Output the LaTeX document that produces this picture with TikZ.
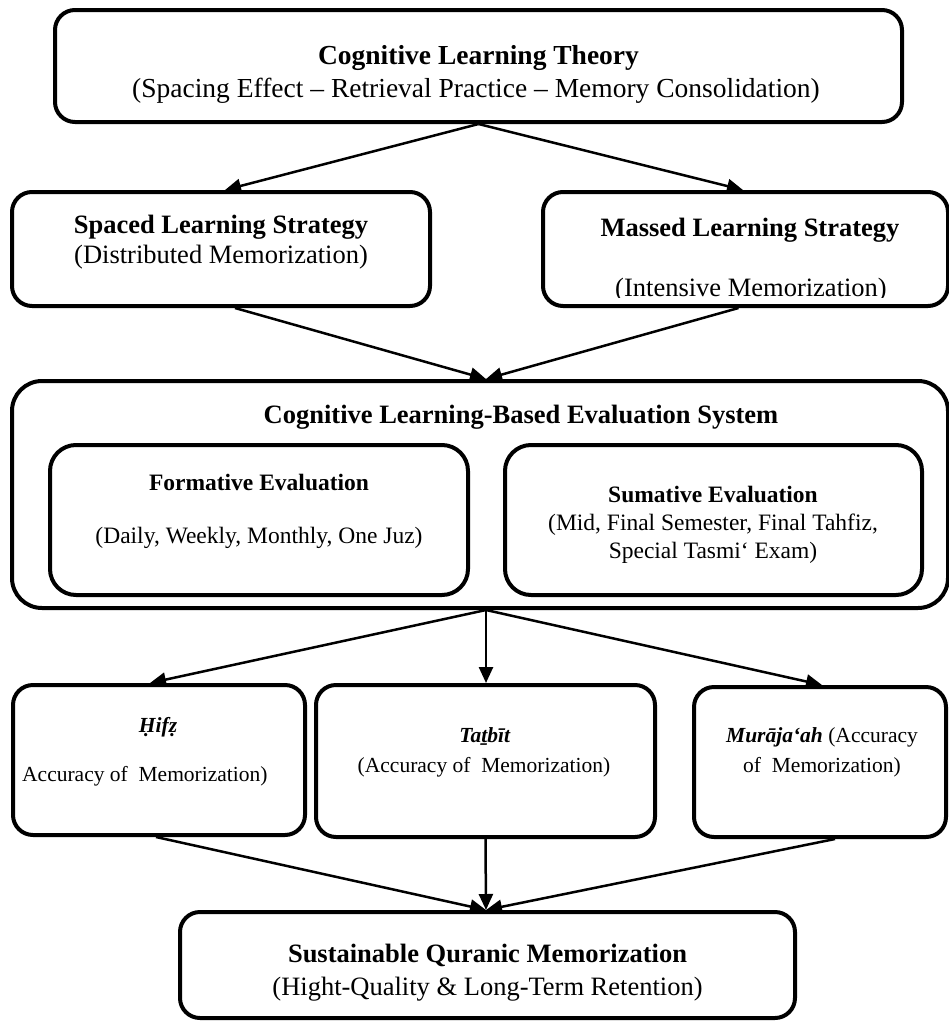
\documentclass[tikz,border=0pt]{standalone}
\usepackage{fontspec}
\setmainfont{Liberation Serif}
\usetikzlibrary{arrows.meta}
\begin{document}
\begin{tikzpicture}[x=1pt,y=-1pt,
  box/.style={draw,line width=4pt,rounded corners=20pt,inner sep=0pt},
  bigt/.style={inner sep=0pt,anchor=base,font=\fontsize{27.5}{32}\selectfont},
  lbl/.style={inner sep=0pt,anchor=base,font=\fontsize{26.5}{30}\selectfont},
  sml/.style={inner sep=0pt,anchor=base,font=\fontsize{23.5}{29}\selectfont},
  tny/.style={inner sep=0pt,anchor=base,font=\fontsize{21.5}{30}\selectfont},
  arr/.style={line width=2.5pt,-{Triangle[length=16pt,width=14pt]}}]
\useasboundingbox (0,0) rectangle (949,1023);

% boxes
\node[box,minimum width=847pt,minimum height=112pt] (top) at (478.5,66) {};
\node[box,minimum width=418pt,minimum height=114pt] (spaced) at (221,249) {};
\node[box,minimum width=405pt,minimum height=114pt] (massed) at (745.5,249) {};
\node[box,rounded corners=30pt,minimum width=936pt,minimum height=227pt] (big) at (480,494.5) {};
\node[box,rounded corners=26pt,minimum width=418pt,minimum height=150pt] (form) at (259,520) {};
\node[box,rounded corners=26pt,minimum width=417pt,minimum height=150pt] (sum) at (713.5,520) {};
\node[box,minimum width=292pt,minimum height=150pt] (hifz) at (159,760) {};
\node[box,minimum width=339pt,minimum height=152pt] (tatbit) at (485.5,761) {};
\node[box,minimum width=252pt,minimum height=150pt] (muraja) at (820,762) {};
\node[box,minimum width=615pt,minimum height=106pt] (final) at (487.5,965) {};

% texts
\node[bigt] (t1) at (478.5,64) {\textbf{Cognitive Learning Theory}};
\node[bigt] (t2) at (476,97) {(Spacing Effect – Retrieval Practice – Memory Consolidation)};

\node[lbl] (s1) at (221,233) {\textbf{Spaced Learning Strategy}};
\node[lbl] (s2) at (221,263) {(Distributed Memorization)};

\node[lbl] (m1) at (750,236) {\textbf{Massed Learning Strategy}};
\begin{scope}
\clip (543,192) rectangle (948,297);
\node[lbl] (m2) at (751,296) {(Intensive Memorization)};
\end{scope}

\node[lbl] (b1) at (521,423) {\textbf{Cognitive Learning-Based Evaluation System}};
\node[sml] (f1) at (259,490) {\textbf{Formative Evaluation}};
\node[sml] (f2) at (259,543) {(Daily, Weekly, Monthly, One Juz)};
\node[sml] (u1) at (713,502) {\textbf{Sumative Evaluation}};
\node[sml] (u2) at (713,530) {(Mid, Final Semester, Final Tahfiz,};
\node[sml] (u3) at (713,558) {Special Tasmi‘ Exam)};

\node[tny] (h1) at (158,732) {\textbf{\textit{Ḥifẓ}}};
\node[tny,anchor=base west] (h2) at (22,781) {Accuracy of~ Memorization)};
\node[tny] (a1) at (485,742) {\textbf{\textit{Taṯbīt}}};
\node[tny] (a2) at (484,772) {(Accuracy of~ Memorization)};
\node[tny] (r1) at (822,742) {\textbf{\textit{Murāja‘ah}} (Accuracy};
\node[tny] (r2) at (822,772) {of~ Memorization)};

\node[lbl] (e1) at (487.5,962) {\textbf{Sustainable Quranic Memorization}};
\node[lbl] (e2) at (487.5,995) {(Hight-Quality \& Long-Term Retention)};

% connectors
\draw[arr] (top.south) -- ([xshift=4pt]spaced.north);
\draw[arr] (top.south) -- ([xshift=-2.5pt]massed.north);
\draw[arr] ([xshift=14pt]spaced.south) -- ([xshift=6pt]big.north);
\draw[arr] ([xshift=-7pt]massed.south) -- ([xshift=6pt]big.north);
\draw[arr] ([xshift=6pt]big.south) -- ([xshift=-9pt]hifz.north);
\draw[arr] ([xshift=6pt]big.south) -- ([xshift=0.5pt]tatbit.north);
\draw[arr] ([xshift=6pt]big.south) -- ([xshift=2pt]muraja.north);
\draw[arr] ([xshift=-3pt]hifz.south) -- ([xshift=-1.5pt]final.north);
\draw[arr] (tatbit.south) -- ([xshift=-1.5pt]final.north);
\draw[arr] ([xshift=15pt]muraja.south) -- ([xshift=-1.5pt]final.north);
\end{tikzpicture}
\end{document}
